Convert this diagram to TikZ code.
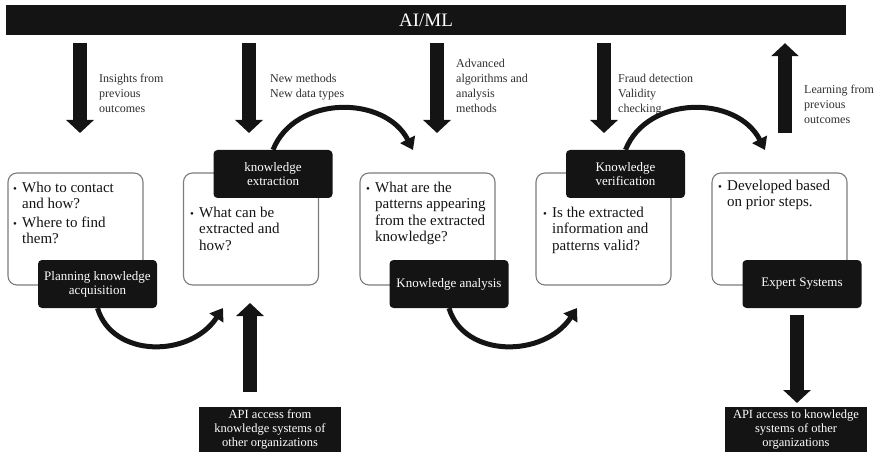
\documentclass[tikz,border=0pt]{standalone}
\usepackage{fontspec}
\setmainfont{Liberation Serif}
\usetikzlibrary{arrows.meta}
\definecolor{ink}{HTML}{141414}
\definecolor{rim}{HTML}{7C7C7C}
\definecolor{note}{HTML}{2E2E2E}
% small bullet used in the question boxes
\newcommand\dotmark{\makebox[9pt][l]{\fontsize{11}{11}\selectfont\textbullet}}
\tikzset{
  bar/.style={rectangle, fill=ink, text=white, minimum width=840pt, minimum height=30pt,
    inner sep=0, font=\fontsize{19}{20}\selectfont},
  qbox/.style={rectangle, draw=rim, line width=1.1pt, rounded corners=9pt, fill=white,
    minimum width=135pt, minimum height=112pt, inner sep=0},
  qtext/.style={anchor=north west, inner sep=0, text=ink,
    font=\fontsize{15}{16.5}\selectfont},
  stage/.style={rectangle, rounded corners=4pt, fill=ink, text=white,
    minimum width=119pt, minimum height=48pt, inner sep=0, align=center,
    font=\fontsize{13}{14}\selectfont},
  apibox/.style={rectangle, fill=ink, text=white, minimum width=142pt,
    minimum height=45pt, inner sep=0, align=center, font=\fontsize{12.5}{14}\selectfont},
  note/.style={anchor=north west, inner sep=0, align=left, text=note,
    font=\fontsize{12}{15}\selectfont},
  blockarr/.style={line width=14pt, draw=ink, -{Triangle[width=27pt,length=13pt]}},
  curvearr/.style={line width=5pt, draw=ink, -{Triangle[width=16pt,length=12pt]}},
}
\begin{document}
\begin{tikzpicture}[x=1pt, y=-1pt]
\useasboundingbox (0,0) rectangle (880,454);

% AI/ML band
\node[bar] (aiml) at (426,20) {AI/ML};

% question boxes
\node[qbox] (b1) at (75.5,229) {};
\node[qbox] (b2) at (251,229) {};
\node[qbox] (b3) at (427.5,229) {};
\node[qbox] (b4) at (603.5,229) {};
\node[qbox] (b5) at (779.5,229) {};

\node[qtext] (q1) at (13,180.5) {\begin{tabular}{@{}l@{}l@{}}
  \dotmark & Who to contact\\ & and how?\\[2pt]
  \dotmark & Where to find\\ & them?\end{tabular}};
\node[qtext] (q2) at (190,205.5) {\begin{tabular}{@{}l@{}l@{}}
  \dotmark & What can be\\ & extracted and\\ & how?\end{tabular}};
\node[qtext] (q3) at (366,180.5) {\begin{tabular}{@{}l@{}l@{}}
  \dotmark & What are the\\ & patterns appearing\\ & from the extracted\\ & knowledge?\end{tabular}};
\node[qtext] (q4) at (543,205.5) {\begin{tabular}{@{}l@{}l@{}}
  \dotmark & Is the extracted\\ & information and\\ & patterns valid?\end{tabular}};
\node[qtext] (q5) at (718,178.5) {\begin{tabular}{@{}l@{}l@{}}
  \dotmark & Developed based\\ & on prior steps.\end{tabular}};

% stage labels
\node[stage] (plan) at (97.5,284) {Planning knowledge\\acquisition};
\node[stage] (ext) at (273,174) {knowledge\\extraction};
\node[stage] (ana) at (449,284) {Knowledge analysis};
\node[stage] (ver) at (625.5,174) {Knowledge\\verification};
\node[stage] (exp) at (802,284) {Expert Systems};

% external API access
\node[apibox] (api1) at (270,429.5) {API access from\\knowledge systems of\\other organizations};
\node[apibox] (api2) at (796,429.5) {API access to knowledge\\systems of other\\organizations};

% arrow ends
\coordinate (t1) at (80,133);
\coordinate (t2) at (249,133);
\coordinate (t3) at (437,133);
\coordinate (t4) at (604,133);
\coordinate (t5) at (785,133);
\coordinate (u1) at (250,303);
\coordinate (d6) at (797,403);
\coordinate (c1) at (413,150);
\coordinate (c2) at (765,150);
\coordinate (c3) at (223,308);
\coordinate (c4) at (577,308);

% inputs from AI/ML and feedback to it
\draw[blockarr, shorten <=8pt] (aiml.south -| t1) -- (t1);
\draw[blockarr, shorten <=8pt] (aiml.south -| t2) -- (t2);
\draw[blockarr, shorten <=8pt] (aiml.south -| t3) -- (t3);
\draw[blockarr, shorten <=8pt] (aiml.south -| t4) -- (t4);
\draw[blockarr, shorten >=8pt] (t5) -- (aiml.south -| t5);

\node[note] (n1) at (99,74) {Insights from\\previous\\outcomes};
\node[note] (n2) at (270,74) {New methods\\New data types};
\node[note] (n3) at (456,59) {Advanced\\algorithms and\\analysis\\methods};
\node[note] (n4) at (618,74) {Fraud detection\\Validity\\checking};
\node[note] (n5) at (804,85) {Learning from\\previous\\outcomes};

% flow between stages
\draw[curvearr] (plan.south) .. controls +(15,50) and +(-33,50) .. (c3);
\draw[curvearr] (ext.north) .. controls +(22,-55) and +(-28,-55) .. (c1);
\draw[curvearr] (ana.south) .. controls +(15,50) and +(-33,50) .. (c4);
\draw[curvearr] (ver.north) .. controls +(22,-55) and +(-28,-55) .. (c2);

% API links
\draw[blockarr, shorten <=15pt] (api1.north -| u1) -- (u1);
\draw[blockarr, shorten <=7pt] (exp.south -| d6) -- (d6);
\end{tikzpicture}
\end{document}
